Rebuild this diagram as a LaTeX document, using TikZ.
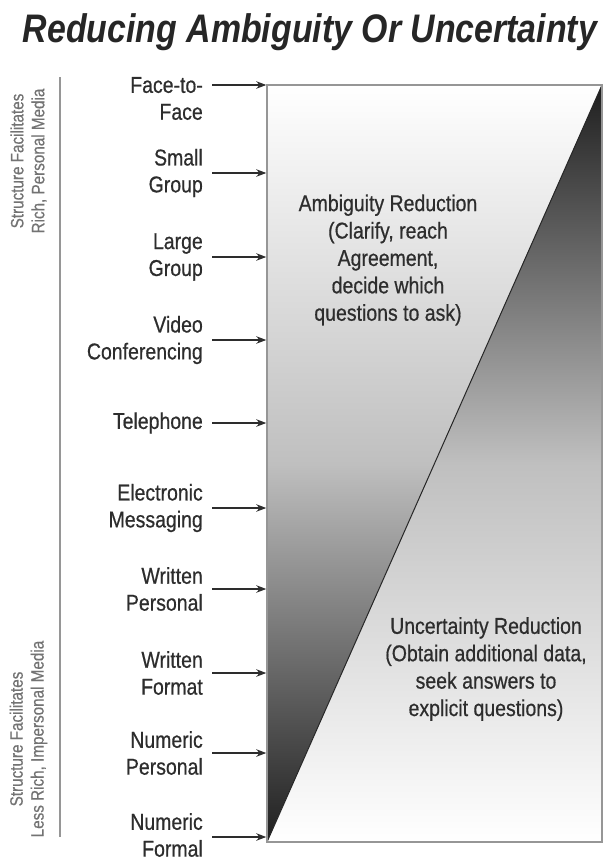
\documentclass[tikz,border=0pt]{standalone}
\usepackage{fontspec}
\setmainfont{Liberation Sans}[FakeStretch=0.85, UprightFeatures={FakeBold=0.6}]
\usetikzlibrary{arrows.meta, positioning}
\definecolor{inkgray}{RGB}{45,45,45}
\definecolor{rulegray}{RGB}{150,150,150}
\definecolor{sidegray}{RGB}{115,115,115}

\begin{document}
\begin{tikzpicture}[x=1bp, y=-1bp,
  medium/.style={font=\fontsize{23}{27}\selectfont, text=inkgray, align=right, anchor=east, inner sep=0pt},
  feed/.style={draw=inkgray, line width=1.1bp, -{Stealth[length=10bp, width=7.5bp]}},
  side/.style={font=\fontsize{18}{21}\selectfont, text=sidegray, align=center, rotate=90, inner sep=0pt},
  zone/.style={font=\fontsize{23}{27.5}\selectfont, text=inkgray, align=center, inner sep=0pt}]
\useasboundingbox (0,0) rectangle (607,861);

% Title
\node[font=\fontsize{40}{48}\selectfont\bfseries\itshape, text=black!85] (title) at (310,32) {Reducing Ambiguity Or Uncertainty};

% Shaded panel, split on the diagonal
\shade[top color=white, bottom color=black!88, middle color=black!25] (267,85) -- (602,85) -- (267,842) -- cycle;
\shade[top color=black!88, bottom color=white, middle color=black!25] (602,85) -- (602,842) -- (267,842) -- cycle;
\draw[black!85, line width=1bp] (267,842) -- (602,85);
\node[draw=rulegray, line width=1.5bp, minimum width=335bp, minimum height=757bp, inner sep=0pt] (panel) at (434.5,463.5) {};

\node[zone] (ambig) at (388,260) {Ambiguity Reduction\\(Clarify, reach\\Agreement,\\decide which\\questions to ask)};
\node[zone] (uncert) at (486,669) {Uncertainty Reduction\\(Obtain additional data,\\seek answers to\\explicit questions)};

% Media, richest at the top
\node[medium] (ftf) at (203,98.5) {Face-to-\\Face};
\node[medium] (small) at (203,173) {Small\\Group};
\node[medium] (large) at (203,257) {Large\\Group};
\node[medium] (video) at (203,340) {Video\\Conferencing};
\node[medium] (phone) at (203,423) {Telephone};
\node[medium] (email) at (203,508) {Electronic\\Messaging};
\node[medium] (wpers) at (203,589) {Written\\Personal};
\node[medium] (wform) at (203,673) {Written\\Format};
\node[medium] (npers) at (203,753) {Numeric\\Personal};
\node[medium] (nform) at (203,835) {Numeric\\Formal};

\coordinate (ftf-in) at (212,85);
\coordinate (nform-in) at (212,837);
\draw[feed] (ftf-in) -- (ftf-in -| panel.west);
\draw[feed] ([xshift=9bp]small.east) -- (small.east -| panel.west);
\draw[feed] ([xshift=9bp]large.east) -- (large.east -| panel.west);
\draw[feed] ([xshift=9bp]video.east) -- (video.east -| panel.west);
\draw[feed] ([xshift=9bp]phone.east) -- (phone.east -| panel.west);
\draw[feed] ([xshift=9bp]email.east) -- (email.east -| panel.west);
\draw[feed] ([xshift=9bp]wpers.east) -- (wpers.east -| panel.west);
\draw[feed] ([xshift=9bp]wform.east) -- (wform.east -| panel.west);
\draw[feed] ([xshift=9bp]npers.east) -- (npers.east -| panel.west);
\draw[feed] (nform-in) -- (nform-in -| panel.west);

% Side notes
\draw[rulegray, line width=1.5bp] (60,77) -- (60,837);
\node[side] (richnote) at (28.5,161) {Structure Facilitates\\Rich, Personal Media};
\node[side] (leannote) at (28.5,739) {Structure Facilitates\\Less Rich, Impersonal Media};

\end{tikzpicture}
\end{document}
